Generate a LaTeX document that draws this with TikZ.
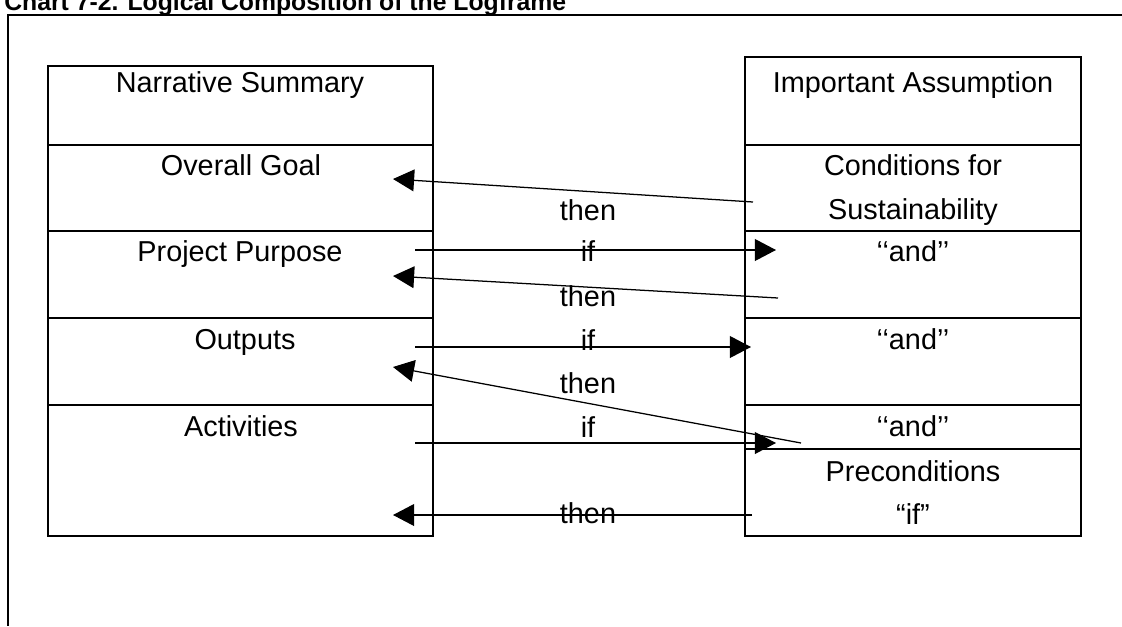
\documentclass[tikz,border=0pt]{standalone}
\usepackage{fontspec}
\setmainfont{Liberation Sans}
\usetikzlibrary{arrows.meta,positioning}

\begin{document}
\begin{tikzpicture}[x=0.025cm, y=-0.025cm,
    cell/.style={rectangle, draw, line width=1.4pt, inner sep=0pt, outer sep=0pt, anchor=north west},
    lcell/.style={cell, minimum width=9.625cm},
    rcell/.style={cell, minimum width=8.4cm},
    txt/.style={anchor=base, inner sep=0pt, font=\fontsize{20.5}{24}\selectfont},
    arrow/.style={-{Triangle[length=15pt, width=15.5pt]}, line width=0.9pt}
]
\useasboundingbox (0,0) rectangle (1122,626);

\node[anchor=base west, inner sep=0pt, font=\fontsize{17.6}{20}\selectfont\bfseries] (title) at (4,10)
    {Chart 7-2. Logical Composition of the Logframe};
\draw[line width=1.4pt] (1122,15) -| (8,626);

% left column
\node[lcell, minimum height=1.975cm] (ns) at (48,66) {};
\node[lcell, minimum height=2.15cm] (goal) at (48,145) {};
\node[lcell, minimum height=2.175cm] (purpose) at (48,231) {};
\node[lcell, minimum height=2.175cm] (outputs) at (48,318) {};
\node[lcell, minimum height=3.275cm] (activities) at (48,405) {};

% right column
\node[rcell, minimum height=2.2cm] (ia) at (745,57) {};
\node[rcell, minimum height=2.15cm] (sust) at (745,145) {};
\node[rcell, minimum height=2.175cm] (and1) at (745,231) {};
\node[rcell, minimum height=2.175cm] (and2) at (745,318) {};
\node[rcell, minimum height=1.1cm] (and3) at (745,405) {};
\node[rcell, minimum height=2.175cm] (pre) at (745,449) {};

\node[txt] (nstxt) at (240,92) {Narrative Summary};
\node[txt] (goaltxt) at (241,175) {Overall Goal};
\node[txt] (purposetxt) at (240,261) {Project Purpose};
\node[txt] (outputstxt) at (245,349) {Outputs};
\node[txt] (activitiestxt) at (241,436) {Activities};

\node[txt] (iatxt) at (913,92) {Important Assumption};
\node[txt] (susttxt) at (913,175) {Conditions for};
\node[txt] (susttxt2) at (913,219) {Sustainability};
\node[txt] (and1txt) at (913,261) {‘‘and’’};
\node[txt] (and2txt) at (913,349) {‘‘and’’};
\node[txt] (and3txt) at (913,436) {‘‘and’’};
\node[txt] (pretxt) at (913,481) {Preconditions};
\node[txt] (pretxt2) at (913,524) {“if”};

% arrow ends
\coordinate (g1) at (753,202);  \coordinate (g2) at (393,179);
\coordinate (p1) at (415,250);  \coordinate (p2) at (776,250);
\coordinate (p3) at (778,298);  \coordinate (p4) at (393,276);
\coordinate (o1) at (415,347);  \coordinate (o2) at (751,347);
\coordinate (o3) at (801,443);  \coordinate (o4) at (393,367);
\coordinate (a1) at (415,443);  \coordinate (a2) at (776,443);
\coordinate (a3) at (752,515);  \coordinate (a4) at (393,515);

\draw[arrow] (g1) -- (g2);
\draw[arrow] (p1) -- (p2);
\draw[arrow] (p3) -- (p4);
\draw[arrow] (o1) -- (o2);
\draw[arrow] (o3) -- (o4);
\draw[arrow] (a1) -- (a2);
\draw[arrow] (a3) -- (a4);

\node[txt] (then1) at (588,220) {then};
\node[txt] (if1) at (588,261) {if};
\node[txt] (then2) at (588,306) {then};
\node[txt] (if2) at (588,350) {if};
\node[txt] (then3) at (588,393) {then};
\node[txt] (if3) at (588,437) {if};
\node[txt] (then4) at (588,523) {then};
\end{tikzpicture}
\end{document}
